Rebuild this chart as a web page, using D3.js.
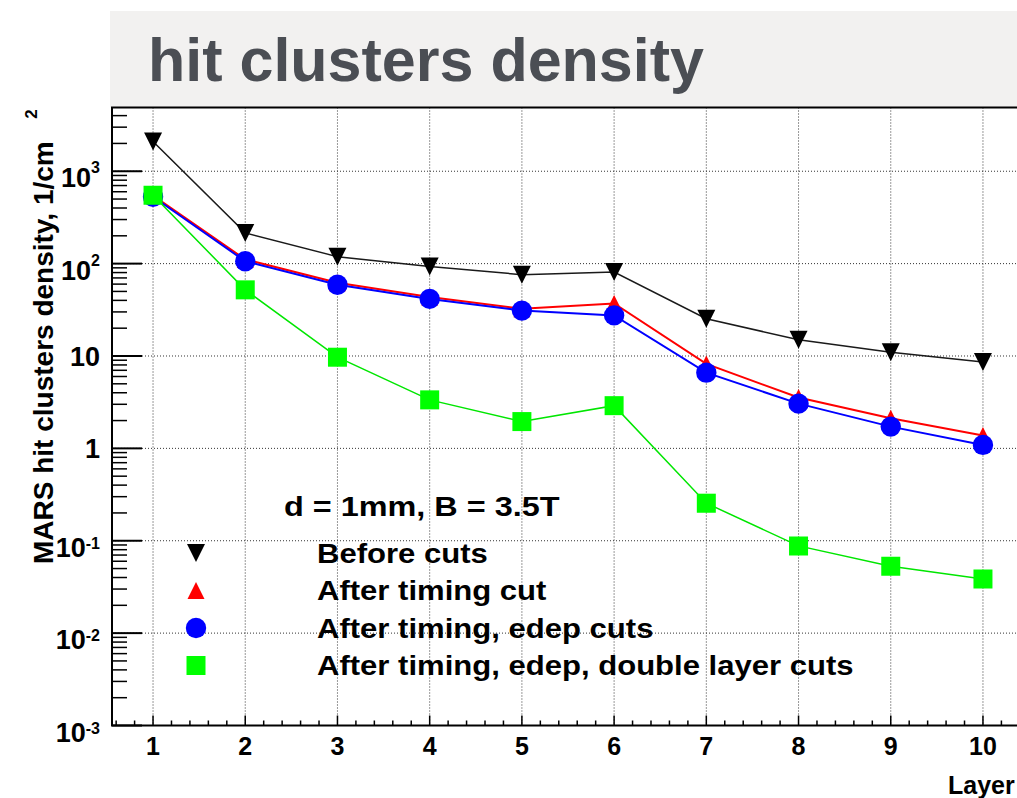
<!DOCTYPE html>
<html>
<head>
<meta charset="utf-8">
<script src="https://cdn.jsdelivr.net/npm/d3@7"></script>
<style>
  body { margin: 0; background: #fff; }
  svg { display: block; }
  text { font-family: "Liberation Sans", Arial, Helvetica, sans-serif; font-weight: bold; }
</style>
</head>
<body>
<svg id="chart" width="1017" height="798"></svg>
<script>
// Hit cluster density per layer, four selection stages
const layers = [1, 2, 3, 4, 5, 6, 7, 8, 9, 10];
const beforeCuts = [2100, 215, 119, 93, 76, 81, 25.3, 15, 11, 8.6];
const afterTimingCut = [545, 111, 62, 43.5, 32.5, 37, 8.2, 3.55, 2.12, 1.38];
const afterTimingEdepCuts = [530, 106, 59, 41.5, 31, 27.5, 6.6, 3.05, 1.72, 1.09];
const afterTimingEdepDoubleLayerCuts = [550, 52, 9.7, 3.35, 1.95, 2.9, 0.255, 0.088, 0.053, 0.0385];

const seriesLabels = [
  "Before cuts",
  "After timing cut",
  "After timing, edep cuts",
  "After timing, edep, double layer cuts"
];

const yTickValues = [1e-3, 1e-2, 1e-1, 1, 10, 100, 1000];
const yTickBases = ["10", "10", "10", "1", "10", "10", "10"];
const yTickExponents = ["-3", "-2", "-1", "", "", "2", "3"];
const xTickLabels = ["1", "2", "3", "4", "5", "6", "7", "8", "9", "10"];

const titleText = "hit clusters density";
const yAxisTitle = "MARS hit clusters density, 1/cm";
const yAxisTitleSup = "2";
const xAxisTitle = "Layer";
const annotationText = "d = 1mm, B = 3.5T";

// ---- layout ----
const frame = { left: 112, right: 1024, top: 107.5, bottom: 725.5 };

const svg = d3.select("#chart");

const x = d3.scaleLinear().domain([0.555, 10.445]).range([frame.left, frame.right]);
const y = d3.scaleLog().domain([1e-3, Math.pow(10, 3.69)]).range([frame.bottom, frame.top]);

// header band
svg.append("rect")
  .attr("x", 110).attr("y", 11)
  .attr("width", 1017 - 110).attr("height", frame.top - 11)
  .attr("fill", "#f2f1f0");

svg.append("text")
  .attr("x", 148).attr("y", 81)
  .attr("font-size", 61)
  .attr("fill", "#4b4e54")
  .text(titleText);

// plot area
svg.append("rect")
  .attr("x", frame.left).attr("y", frame.top)
  .attr("width", frame.right - frame.left).attr("height", frame.bottom - frame.top)
  .attr("fill", "#fff");

svg.append("clipPath").attr("id", "plotClip")
  .append("rect")
  .attr("x", frame.left).attr("y", frame.top)
  .attr("width", frame.right - frame.left).attr("height", frame.bottom - frame.top);

// dotted grid
const grid = svg.append("g")
  .attr("stroke", "#333").attr("stroke-width", 1).attr("stroke-dasharray", "1 2");
grid.selectAll("line.gx").data(layers).join("line")
  .attr("x1", d => x(d)).attr("x2", d => x(d))
  .attr("y1", frame.top).attr("y2", frame.bottom);
grid.selectAll("line.gy").data(yTickValues.filter(v => v > 1e-3)).join("line")
  .attr("class", "gy")
  .attr("x1", frame.left).attr("x2", frame.right)
  .attr("y1", d => y(d)).attr("y2", d => y(d));

// axis ticks
const ticks = svg.append("g").attr("stroke", "#000").attr("stroke-width", 1.5);

const yMinor = [];
for (let e = -3; e <= 3; e++) {
  for (let m = 2; m <= 9; m++) {
    const v = m * Math.pow(10, e);
    if (v < y.domain()[1]) yMinor.push(v);
  }
}
ticks.selectAll("line.ym").data(yMinor).join("line")
  .attr("x1", frame.left).attr("x2", frame.left + 15)
  .attr("y1", d => y(d)).attr("y2", d => y(d));
ticks.selectAll("line.yM").data(yTickValues).join("line")
  .attr("class", "yM")
  .attr("stroke-width", 2)
  .attr("x1", frame.left).attr("x2", frame.left + 30)
  .attr("y1", d => y(d)).attr("y2", d => y(d));

const xMinor = d3.range(6, 105, 2).map(v => v / 10).filter(v => Math.abs(v - Math.round(v)) > 1e-6);
ticks.selectAll("line.xm").data(xMinor).join("line")
  .attr("class", "xm")
  .attr("x1", d => x(d)).attr("x2", d => x(d))
  .attr("y1", frame.bottom).attr("y2", frame.bottom - 5);
ticks.selectAll("line.xM").data(layers).join("line")
  .attr("class", "xM")
  .attr("x1", d => x(d)).attr("x2", d => x(d))
  .attr("y1", frame.bottom).attr("y2", frame.bottom - 10);

// frame border
svg.append("rect")
  .attr("x", frame.left).attr("y", frame.top)
  .attr("width", frame.right - frame.left).attr("height", frame.bottom - frame.top)
  .attr("fill", "none").attr("stroke", "#000").attr("stroke-width", 2);

// tick labels
const yLab = svg.append("g").attr("text-anchor", "end").attr("fill", "#000");
yTickValues.forEach((v, i) => {
  const t = yLab.append("text")
    .attr("x", 100)
    .attr("y", y(v) + (yTickExponents[i] ? 16 : 10))
    .attr("font-size", 27);
  t.append("tspan").text(yTickBases[i]);
  if (yTickExponents[i]) {
    t.append("tspan")
      .attr("font-size", 16)
      .attr("dy", yTickExponents[i].startsWith("-") ? -8 : -14)
      .text(yTickExponents[i]);
  }
});

svg.append("g").attr("text-anchor", "middle")
  .selectAll("text").data(layers).join("text")
  .attr("x", d => x(d)).attr("y", 755)
  .attr("font-size", 25)
  .text((d, i) => xTickLabels[i]);

// axis titles
svg.append("text")
  .attr("transform", "translate(53,564) rotate(-90)")
  .attr("font-size", 28)
  .text(yAxisTitle);
svg.append("text")
  .attr("transform", "translate(37,114) rotate(-90)")
  .attr("text-anchor", "middle")
  .attr("font-size", 17)
  .text(yAxisTitleSup);

svg.append("text")
  .attr("x", 948).attr("y", 794)
  .attr("font-size", 25)
  .text(xAxisTitle);

// marker shapes
const markerPath = {
  triDown: (cx, cy, s) => `M${cx - s},${cy - s}L${cx + s},${cy - s}L${cx},${cy + s}Z`,
  triUp: (cx, cy, s) => `M${cx - s},${cy + s}L${cx + s},${cy + s}L${cx},${cy - s}Z`,
  square: (cx, cy, s) => `M${cx - s},${cy - s}H${cx + s}V${cy + s}H${cx - s}Z`,
  circle: (cx, cy, s) => { const p = d3.path(); p.arc(cx, cy, s, 0, 2 * Math.PI); return p.toString(); }
};

const series = [
  { values: beforeCuts, color: "#000000", line: "#1a1a1a", width: 1.5, marker: "triDown", size: 9 },
  { values: afterTimingCut, color: "#ff0000", line: "#ff0000", width: 2, marker: "triUp", size: 8.5 },
  { values: afterTimingEdepCuts, color: "#0000ff", line: "#0000ff", width: 2, marker: "circle", size: 10.2 },
  { values: afterTimingEdepDoubleLayerCuts, color: "#00ff00", line: "#00e600", width: 1.5, marker: "square", size: 9.5 }
];

const plot = svg.append("g").attr("clip-path", "url(#plotClip)");
const lineGen = d3.line().x(d => x(d[0])).y(d => y(d[1]));

series.forEach(s => {
  const pts = layers.map((l, i) => [l, s.values[i]]);
  const g = plot.append("g");
  g.append("path")
    .attr("d", lineGen(pts))
    .attr("fill", "none")
    .attr("stroke", s.line)
    .attr("stroke-width", s.width);
  g.selectAll("path.m").data(pts).join("path")
    .attr("class", "m")
    .attr("d", d => markerPath[s.marker](x(d[0]), y(d[1]), s.size))
    .attr("fill", s.color);
});

// legend
const legend = svg.append("g");
const stretch = (sel, k) => sel.each(function () {
  const w = this.getComputedTextLength();
  d3.select(this).attr("textLength", w * k).attr("lengthAdjust", "spacingAndGlyphs");
});

legend.append("text")
  .attr("x", 284).attr("y", 516)
  .attr("font-size", 27)
  .text(annotationText)
  .call(stretch, 1.2);

series.forEach((s, i) => {
  const base = 562.5 + i * 37.5;
  legend.append("path")
    .attr("d", markerPath[s.marker](196, base - 9.5, s.size))
    .attr("fill", s.color);
  legend.append("text")
    .attr("x", 317).attr("y", base)
    .attr("font-size", 27)
    .text(seriesLabels[i])
    .call(stretch, 1.15);
});
</script>
</body>
</html>
